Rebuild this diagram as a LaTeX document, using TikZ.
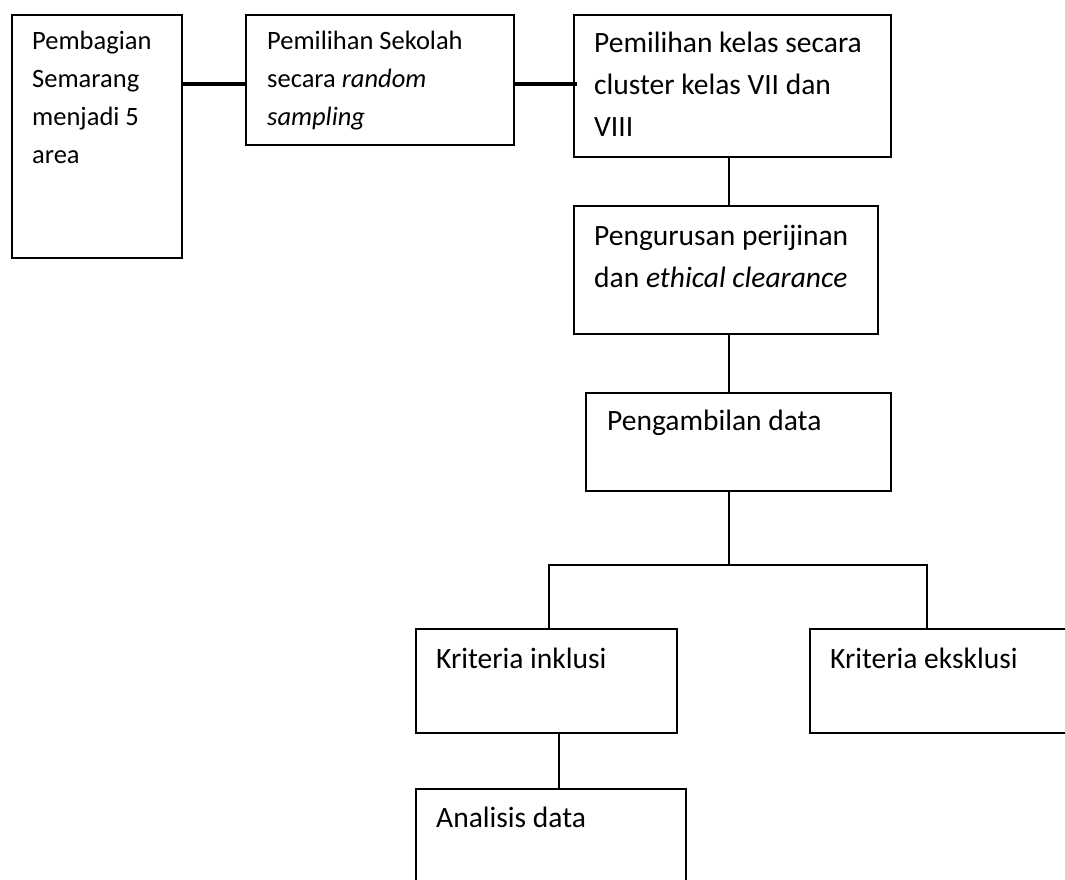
\documentclass[tikz,border=0pt]{standalone}
\usepackage{fontspec}
\setmainfont{Carlito}
\usetikzlibrary{calc}
\newcommand{\smallfs}{\fontsize{26.5}{37.7}\selectfont}
\newcommand{\largefs}{\fontsize{29.5}{42}\selectfont}
\newcommand{\txtlines}[1]{\begin{tabular}[t]{@{}l@{}}#1\end{tabular}}
\tikzset{
  box/.style={draw=black, line width=1.8pt, rectangle, inner sep=0pt, anchor=north west},
  lbl/.style={anchor=base west, inner sep=0pt, text=black},
  conn/.style={draw=black, line width=1.8pt},
  thickconn/.style={draw=black, line width=3.4pt},
}
\begin{document}
\begin{tikzpicture}[x=1pt, y=-1pt]
\useasboundingbox (0,0) rectangle (1065,880);
\fill[white] (0,0) rectangle (1065,880);
\clip (0,0) rectangle (1065,880);

% boxes
\node[box, minimum width=170pt, minimum height=243pt] (b1) at (11,14) {};
\node[box, minimum width=268pt, minimum height=130pt] (b2) at (245,14) {};
\node[box, minimum width=317pt, minimum height=142pt] (b3) at (573,14) {};
\node[box, minimum width=304pt, minimum height=128pt] (b4) at (573,205) {};
\node[box, minimum width=305pt, minimum height=98pt] (b5) at (585,392) {};
\node[box, minimum width=261pt, minimum height=104pt] (b6) at (415,628) {};
\node[box, minimum width=300pt, minimum height=104pt] (b7) at (809,628) {};
\node[box, minimum width=270pt, minimum height=130pt] (b8) at (415,788) {};

% texts
\node[lbl] (t1) at (32,50) {\smallfs\txtlines{Pembagian\\Semarang\\menjadi 5\\area}};
\node[lbl] (t2) at (267,50) {\smallfs\txtlines{Pemilihan Sekolah\\secara \textit{random}\\\textit{sampling}}};
\node[lbl] (t3) at (594,53) {\largefs\txtlines{Pemilihan kelas secara\\cluster kelas VII dan\\VIII}};
\node[lbl] (t4) at (594,245) {\largefs\txtlines{Pengurusan perijinan\\dan \textit{ethical clearance}}};
\node[lbl] (t5) at (607,430) {\largefs Pengambilan data};
\node[lbl] (t6) at (436,668) {\largefs Kriteria inklusi};
\node[lbl] (t7) at (830,668) {\largefs Kriteria eksklusi};
\node[lbl] (t8) at (436,827) {\largefs Analisis data};

% helper coordinates
\coordinate (row) at (0,84);
\coordinate (spine) at (729,0);
\coordinate (bl) at (549,565);
\coordinate (br) at (927,565);
\coordinate (branch) at (729,565);
\coordinate (v68) at (559,0);

% connectors
\draw[thickconn] (b1.east |- row) -- (b2.west |- row);
\draw[thickconn] (b2.east |- row) -- ([xshift=4pt]b3.west |- row);
\draw[conn] (b3.south -| spine) -- (b4.north -| spine);
\draw[conn] (b4.south -| spine) -- (b5.north -| spine);
\draw[conn] (b5.south -| spine) -- (branch);
\draw[conn] (b6.north -| bl) -- (bl) -- (br) -- (b7.north -| br);
\draw[conn] (b6.south -| v68) -- (b8.north -| v68);
\end{tikzpicture}
\end{document}
